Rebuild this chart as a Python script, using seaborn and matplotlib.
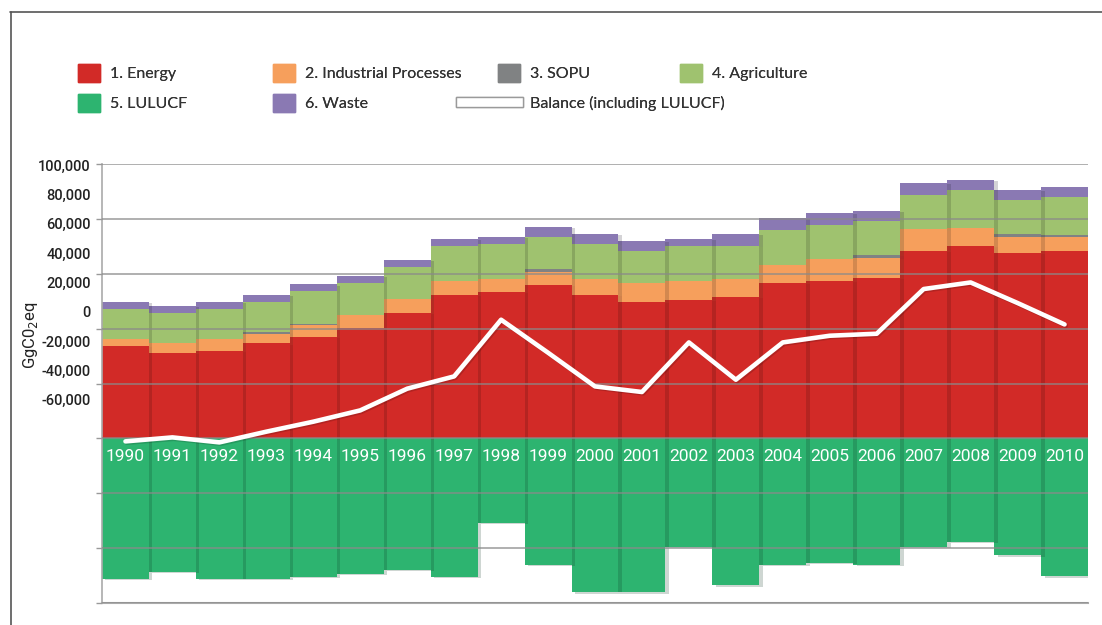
import numpy as np
import pandas as pd
import matplotlib
matplotlib.use('Agg')
import matplotlib.pyplot as plt
import matplotlib.patheffects as pe
from matplotlib.patches import Patch
from matplotlib.lines import Line2D
import seaborn as sns

### GHG emissions by sector with LULUCF sink and net balance (GgCO2eq)

years = ['1990', '1991', '1992', '1993', '1994', '1995', '1996', '1997', '1998', '1999', '2000',
         '2001', '2002', '2003', '2004', '2005', '2006', '2007', '2008', '2009', '2010']

energy      = [33770, 31220, 31950, 34610, 37050, 40330, 45790, 52350, 53440, 55990, 52350,
               49800, 50530, 51620, 56720, 57450, 58540, 68380, 70200, 67650, 68380]
industrial  = [2550, 3390, 4370, 3280, 4370, 4480, 4850, 5100, 4740, 4740, 5830,
               6920, 6920, 6560, 6560, 7760, 7290, 7760, 6560, 5830, 5100]
sopu        = [0, 0, 0, 980, 200, 0, 0, 0, 0, 1090, 0,
               0, 0, 0, 0, 0, 1090, 0, 0, 1090, 730]
agriculture = [10930, 11180, 10930, 10930, 12020, 11910, 11910, 12750, 12750, 11660, 12750,
               11660, 12750, 12020, 12750, 12640, 12390, 12640, 13840, 12390, 13840]
waste       = [2550, 2550, 2550, 2550, 2550, 2550, 2550, 2550, 2550, 3640, 3640,
               3640, 2550, 4370, 4370, 4370, 3640, 4370, 3640, 3640, 3640]
lulucf      = [-51110, -48560, -51110, -51110, -50380, -49290, -47830, -50380, -30820, -46010, -56100,
               -56100, -39450, -53550, -46010, -45280, -46010, -39450, -37630, -42620, -50270]
balance     = [-1090, 360, -1460, 2440, 6080, 10200, 18110, 22590, 43240, 31220, 18940,
               16900, 34970, 21380, 34970, 37410, 38140, 54430, 56830, 49330, 41530]

# y tick labels as printed (they sit off the gridlines in the original)
tick_vals   = [100000, 80000, 60000, 40000, 20000, 0, -20000, -40000, -60000]
tick_labels = ['100,000', '80,000', '60,000', '40,000', '20,000', '0', '-20,000', '-40,000', '-60,000']

legend_labels = ['1. Energy', '2. Industrial Processes', '3. SOPU', '4. Agriculture',
                 '5. LULUCF', '6. Waste', 'Balance (including LULUCF)']

c_energy = '#d22a27'
c_ind    = '#f69f5c'
c_sopu   = '#808283'
c_agri   = '#9fc26f'
c_lulucf = '#2db470'
c_waste  = '#8a79b3'

sns.set_style('white')
narrow = ['Roboto', 'DejaVu Sans']
plt.rcParams['font.family'] = ['Lato', 'DejaVu Sans']

W, H = 1102, 625
fig = plt.figure(figsize=(W / 100, H / 100), dpi=100)
ax  = fig.add_axes([102 / W, 1 - 603 / H, (1088 - 102) / W, (603 - 164) / H])

n = len(years)
bottom = np.zeros(n)
layers = [(energy, c_energy), (industrial, c_ind), (sopu, c_sopu),
          (agriculture, c_agri), (waste, c_waste)]

shadow = [pe.SimplePatchShadow(offset=(2.5, -1), alpha=0.2), pe.Normal()]

for rank, (vals, col) in enumerate(layers):
    sns.barplot(x=years, y=vals, bottom=bottom, color=col, saturation=1,
                width=1.0, ax=ax, linewidth=0)
    for i, p in enumerate(ax.containers[-1].patches):
        p.set_zorder(1 + (n - i) * 0.04 + (5 - rank) * 0.005)
        p.set_path_effects(shadow)
    bottom = bottom + np.array(vals)

sns.barplot(x=years, y=lulucf, color=c_lulucf, saturation=1, width=1.0, ax=ax, linewidth=0)
for i, p in enumerate(ax.containers[-1].patches):
    p.set_zorder(1 + (n - i) * 0.04 + 0.03)
    p.set_path_effects(shadow)

sns.lineplot(x=np.arange(n), y=balance, color='white', lw=3.3, ax=ax, zorder=5,
             path_effects=[pe.SimpleLineShadow(offset=(1, -1), alpha=0.15), pe.Normal()])

ax.set_xlim(-0.5, n - 0.5)
ax.set_ylim(-60000, 100000)
ax.set_xticks([])
ax.set_xlabel('')

for i, yr in enumerate(years):
    ax.text(i, -6500, yr, ha='center', va='center', color='white',
            fontsize=12.5, family=narrow, zorder=6)

# gridlines / small ticks on the real 20,000 steps
ax.set_yticks(np.arange(-60000, 100001, 20000))
ax.set_yticklabels([])
ax.yaxis.grid(True, which='major', color='#8a8a8a', lw=1.2, alpha=0.8)
ax.set_axisbelow(False)
ax.tick_params(axis='y', which='major', left=True, length=4, color='#999999', width=1)

label_pos = [46150 + v * 0.534 for v in tick_vals]
ax.set_yticks(label_pos, labels=tick_labels, minor=True)
ax.tick_params(axis='y', which='minor', length=0, pad=8, labelsize=10.5, labelcolor='#222222')
for t in ax.get_yticklabels(minor=True):
    t.set_family(narrow)
    t.set_fontweight('medium')

ax.set_ylabel('GgC0$_2$eq', family=narrow, fontsize=12, color='#222222')
ax.yaxis.set_label_coords(-0.063, 0.61)

for s in ['top', 'right']:
    ax.spines[s].set_visible(False)
ax.spines['left'].set_color('#aaaaaa')
ax.spines['bottom'].set_color('#aaaaaa')
ax.spines['left'].set_linewidth(1.2)
ax.spines['bottom'].set_linewidth(1.5)

# legend, one entry per box so each can sit where the original has it
handles = [Patch(color=c_energy), Patch(color=c_ind), Patch(color=c_sopu), Patch(color=c_agri),
           Patch(color=c_lulucf), Patch(color=c_waste),
           Patch(facecolor='white', edgecolor='#9a9a9a', lw=1)]
leg_x = [78, 273, 498, 680, 78, 273, 456]
leg_y = [73, 73, 73, 73, 103, 103, 103]
for k, (h, lab) in enumerate(zip(handles, legend_labels)):
    wide = lab.startswith('Balance')
    lg = fig.legend([h], [lab], loc='center left',
                    bbox_to_anchor=(leg_x[k] / W, 1 - leg_y[k] / H),
                    frameon=False, borderpad=0, borderaxespad=0, fontsize=11.5,
                    handlelength=4.2 if wide else 1.38,
                    handleheight=0.62 if wide else 1.38,
                    handletextpad=0.45 if wide else 0.65,
                    labelcolor='#333333')
    fig.add_artist(lg)

# page frame lines
fig.add_artist(Line2D([10 / W, 1], [1 - 12 / H, 1 - 12 / H], color='#555555', lw=1.2,
                      transform=fig.transFigure))
fig.add_artist(Line2D([11 / W, 11 / W], [0, 1 - 12 / H], color='#555555', lw=1.2,
                      transform=fig.transFigure))

fig.savefig('out.png', dpi=100)
